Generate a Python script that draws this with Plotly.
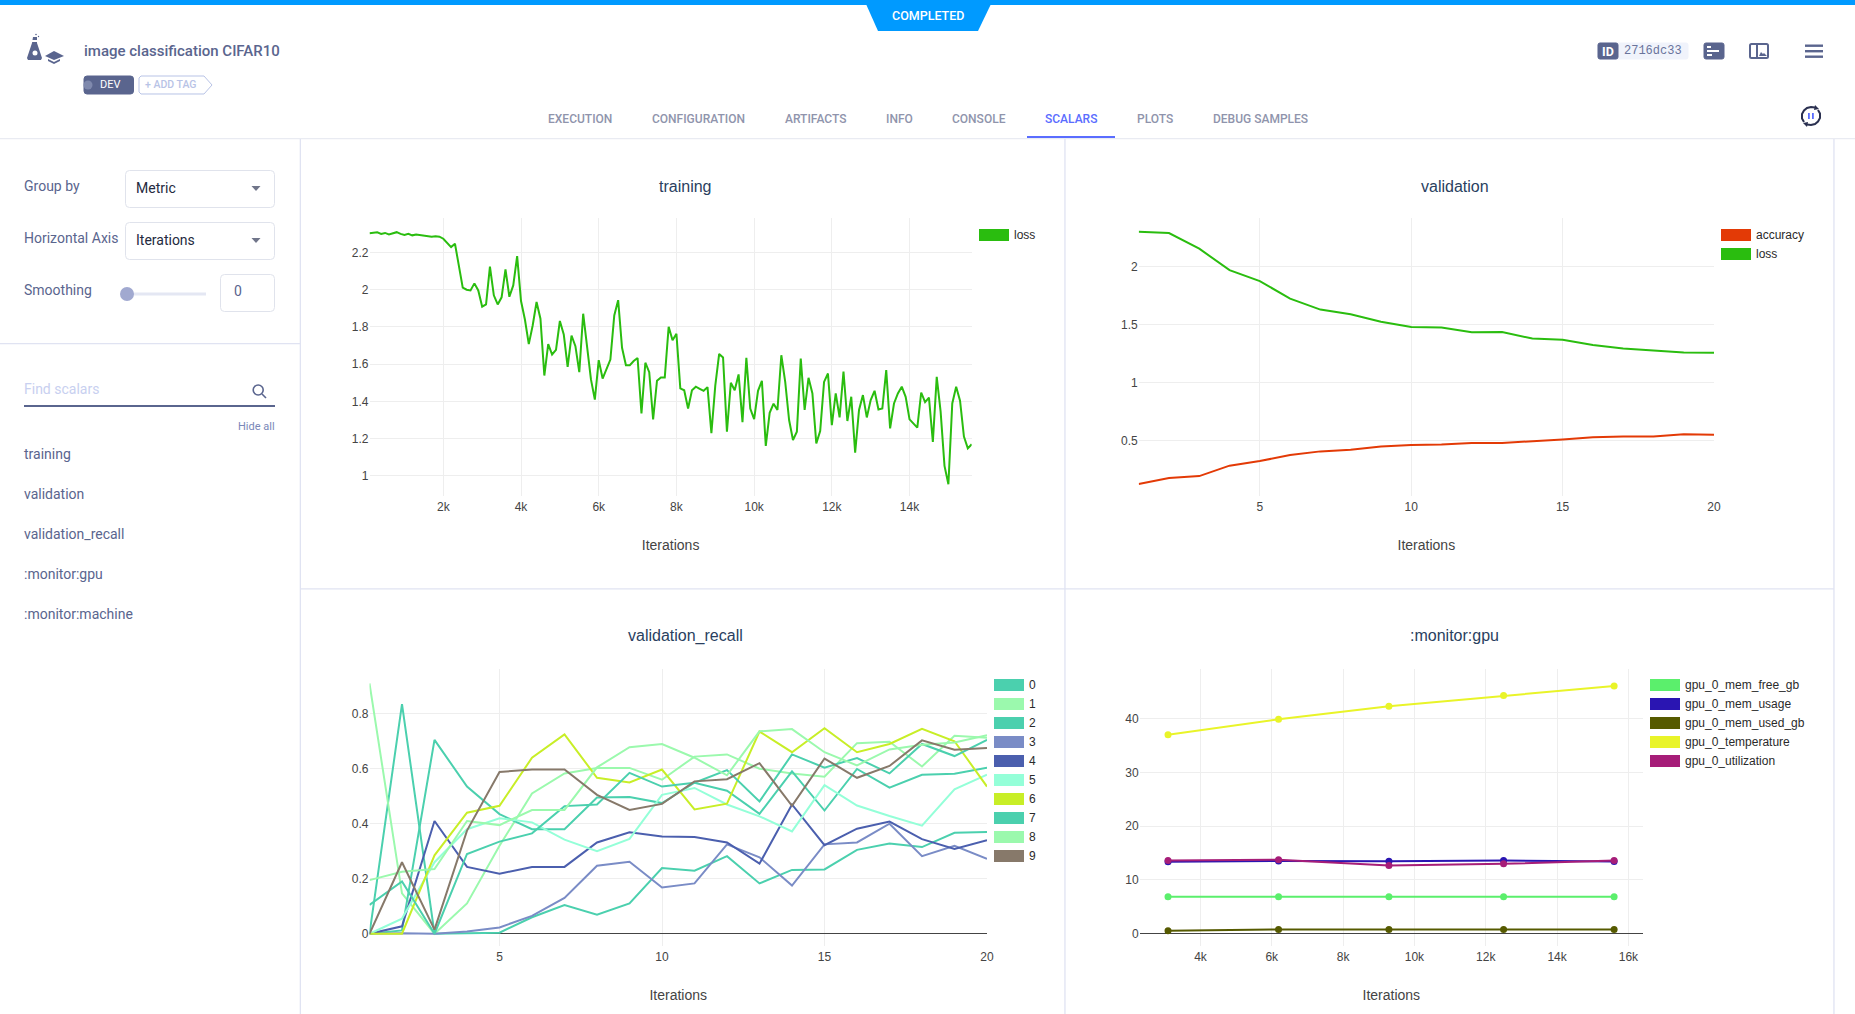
import plotly.graph_objects as go

W, H = 1855, 1014

# ---- data ----
train_iter = list(range(100, 15700, 100))
train_loss = [2.303, 2.306, 2.308, 2.300, 2.305, 2.297, 2.304, 2.309, 2.300, 2.294,
              2.300, 2.292, 2.297, 2.294, 2.294, 2.287, 2.285, 2.287, 2.285, 2.274,
              2.249, 2.229, 2.247, 2.136, 2.011, 2.000, 1.996, 2.034, 1.996, 1.909,
              1.921, 2.124, 1.970, 1.921, 1.959, 2.109, 1.962, 2.023, 2.181, 1.939,
              1.840, 1.708, 1.808, 1.934, 1.844, 1.539, 1.708, 1.652, 1.677, 1.832,
              1.760, 1.586, 1.754, 1.697, 1.557, 1.871, 1.688, 1.518, 1.410, 1.622,
              1.523, 1.572, 1.625, 1.862, 1.944, 1.688, 1.595, 1.595, 1.617, 1.633,
              1.335, 1.608, 1.557, 1.303, 1.511, 1.529, 1.529, 1.801, 1.729, 1.763,
              1.470, 1.460, 1.362, 1.460, 1.479, 1.468, 1.457, 1.477, 1.229, 1.485,
              1.655, 1.636, 1.237, 1.500, 1.460, 1.545, 1.289, 1.634, 1.362, 1.305,
              1.457, 1.511, 1.161, 1.339, 1.388, 1.354, 1.648, 1.505, 1.300, 1.193,
              1.237, 1.630, 1.354, 1.527, 1.443, 1.175, 1.241, 1.505, 1.550, 1.273,
              1.443, 1.314, 1.561, 1.295, 1.425, 1.125, 1.354, 1.434, 1.314, 1.407,
              1.457, 1.357, 1.362, 1.568, 1.255, 1.389, 1.443, 1.479, 1.425, 1.304,
              1.282, 1.259, 1.448, 1.396, 1.420, 1.182, 1.532, 1.345, 1.054, 0.955,
              1.389, 1.479, 1.404, 1.211, 1.148, 1.170]

epochs = list(range(1, 21))
val_accuracy = [0.126, 0.178, 0.195, 0.285, 0.325, 0.376, 0.408, 0.422, 0.451, 0.463,
                0.468, 0.480, 0.480, 0.494, 0.511, 0.529, 0.537, 0.537, 0.555, 0.552]
val_loss = [2.30, 2.29, 2.155, 1.97, 1.875, 1.725, 1.63, 1.59, 1.525, 1.48,
            1.475, 1.435, 1.437, 1.38, 1.37, 1.325, 1.295, 1.28, 1.26, 1.258]

recall_0 = [0, 0.835, 0, 0.002, 0.004, 0.06, 0.104, 0.069, 0.11, 0.239,
            0.229, 0.282, 0.183, 0.232, 0.234, 0.305, 0.328, 0.315, 0.367, 0.37]
recall_1 = [0.91, 0.147, 0, 0.11, 0.32, 0.51, 0.583, 0.603, 0.603, 0.56,
            0.644, 0.652, 0.60, 0.583, 0.571, 0.693, 0.698, 0.608, 0.72, 0.713]
recall_2 = [0, 0.012, 0.705, 0.535, 0.435, 0.38, 0.38, 0.495, 0.497, 0.475,
            0.549, 0.52, 0.436, 0.59, 0.448, 0.599, 0.531, 0.578, 0.582, 0.604]
recall_3 = [0, 0.002, 0, 0.008, 0.023, 0.065, 0.13, 0.247, 0.262, 0.168,
            0.183, 0.325, 0.278, 0.175, 0.325, 0.332, 0.40, 0.282, 0.32, 0.272]
recall_4 = [0, 0.027, 0.41, 0.243, 0.218, 0.243, 0.243, 0.332, 0.369, 0.354,
            0.352, 0.332, 0.255, 0.47, 0.322, 0.382, 0.408, 0.344, 0.308, 0.34]
recall_5 = [0, 0.055, 0.26, 0.38, 0.42, 0.405, 0.342, 0.30, 0.345, 0.505,
            0.53, 0.47, 0.427, 0.372, 0.54, 0.466, 0.428, 0.393, 0.525, 0.578]
recall_6 = [0, 0, 0.285, 0.44, 0.465, 0.64, 0.725, 0.567, 0.55, 0.597,
            0.452, 0.473, 0.735, 0.66, 0.747, 0.66, 0.69, 0.745, 0.70, 0.535]
recall_7 = [0.105, 0.19, 0, 0.29, 0.335, 0.365, 0.464, 0.47, 0.585, 0.535,
            0.549, 0.595, 0.481, 0.652, 0.604, 0.639, 0.583, 0.69, 0.646, 0.705]
recall_8 = [0.195, 0.225, 0.235, 0.41, 0.395, 0.45, 0.45, 0.605, 0.678, 0.69,
            0.64, 0.576, 0.736, 0.744, 0.66, 0.612, 0.67, 0.687, 0.695, 0.722]
recall_9 = [0, 0.26, 0.015, 0.375, 0.588, 0.597, 0.597, 0.505, 0.45, 0.472,
            0.554, 0.562, 0.62, 0.465, 0.637, 0.567, 0.61, 0.703, 0.669, 0.675]
recall_names = ["0", "1", "2", "3", "4", "5", "6", "7", "8", "9"]
recall_colors = ["#4bd0ae", "#9bf9ad", "#4bd0ae", "#7a8cc6", "#4b5fae",
                 "#94ffd8", "#c8ee27", "#4bd0ae", "#9bf9ad", "#87796a"]

gpu_iter = [3090, 6190, 9285, 12500, 15600]
gpu_mem_free = [6.88, 6.88, 6.88, 6.88, 6.88]
gpu_mem_usage = [13.4, 13.55, 13.5, 13.6, 13.45]
gpu_mem_used = [0.55, 0.8, 0.8, 0.8, 0.8]
gpu_temperature = [37.0, 39.9, 42.3, 44.3, 46.1]
gpu_utilization = [13.6, 13.75, 12.7, 13.0, 13.6]
gpu_names = ["gpu_0_mem_free_gb", "gpu_0_mem_usage", "gpu_0_mem_used_gb",
             "gpu_0_temperature", "gpu_0_utilization"]
gpu_colors = ["#5bef6c", "#2a15b2", "#565a00", "#e9f429", "#a61d78"]

tab_names = ["EXECUTION", "CONFIGURATION", "ARTIFACTS", "INFO", "CONSOLE", "SCALARS", "PLOTS", "DEBUG SAMPLES"]
tab_centers = [580, 698, 815, 899.5, 979, 1071, 1155, 1260]
scalar_names = ["training", "validation", "validation_recall", ":monitor:gpu", ":monitor:machine"]

SLATE = "#5a658e"
GREEN = "#2abd0f"
RED = "#e33a06"
PLOT_FONT = "Liberation Sans"
UI_FONT = "Roboto"

shapes = []
annotations = []


def fx(x):
    return x / W


def fy(y):
    return 1 - y / H


def text(x, y, s, size=14, color=SLATE, anchor="left", font=UI_FONT, weight=None):
    f = dict(family=font, size=size, color=color)
    if weight:
        f["weight"] = weight
    annotations.append(dict(x=fx(x), y=fy(y), xref="paper", yref="paper", text=s, showarrow=False,
                            xanchor=anchor, yanchor="middle", font=f, borderpad=0, borderwidth=0))


def rect(x0, y0, x1, y1, fill, line=None, lw=1):
    shapes.append(dict(type="rect", xref="paper", yref="paper", x0=fx(x0), x1=fx(x1), y0=fy(y0), y1=fy(y1),
                       fillcolor=fill, line=dict(color=line, width=lw) if line else dict(width=0)))


def poly(points, fill=None, line=None, lw=1, close=True):
    p = "M " + " L ".join(f"{fx(a):.6f},{fy(b):.6f}" for a, b in points) + (" Z" if close else "")
    shapes.append(dict(type="path", xref="paper", yref="paper", path=p, fillcolor=fill or "rgba(0,0,0,0)",
                       line=dict(color=line, width=lw) if line else dict(width=0)))


def round_box(x0, y0, x1, y1, r=4, fill="#ffffff", line="#e0e3ec", lw=1):
    k = [(x0 + r, y0), (x1 - r, y0), (x1, y0), (x1, y0 + r), (x1, y1 - r), (x1, y1), (x1 - r, y1),
         (x0 + r, y1), (x0, y1), (x0, y1 - r), (x0, y0 + r), (x0, y0)]
    k = [(fx(a), fy(b)) for a, b in k]
    p = (f"M {k[0][0]},{k[0][1]} L {k[1][0]},{k[1][1]} Q {k[2][0]},{k[2][1]} {k[3][0]},{k[3][1]} "
         f"L {k[4][0]},{k[4][1]} Q {k[5][0]},{k[5][1]} {k[6][0]},{k[6][1]} L {k[7][0]},{k[7][1]} "
         f"Q {k[8][0]},{k[8][1]} {k[9][0]},{k[9][1]} L {k[10][0]},{k[10][1]} Q {k[11][0]},{k[11][1]} {k[0][0]},{k[0][1]} Z")
    shapes.append(dict(type="path", xref="paper", yref="paper", path=p, fillcolor=fill,
                       line=dict(color=line, width=lw) if lw else dict(width=0)))


def circle(cx, cy, r, fill=None, line=None, lw=1):
    shapes.append(dict(type="circle", xref="paper", yref="paper", x0=fx(cx - r), x1=fx(cx + r), y0=fy(cy - r), y1=fy(cy + r),
                       fillcolor=fill or "rgba(0,0,0,0)", line=dict(color=line, width=lw) if line else dict(width=0)))


def legend(names, colors, x_swatch, x_text, y_top):
    for i, (n, c) in enumerate(zip(names, colors)):
        y = y_top + i * 19
        rect(x_swatch, y, x_swatch + 30, y + 12, c)
        text(x_text, y + 6.3, n, size=12, color="#2a2a2a", font=PLOT_FONT)


def axis_x(dom, rng, **kw):
    return dict(domain=[fx(dom[0]), fx(dom[1])], range=rng, showgrid=True, gridcolor="#eeeeee", gridwidth=1,
                zeroline=False, showline=False, ticks="", automargin=False, ticklabelstandoff=2,
                tickfont=dict(family=PLOT_FONT, size=12, color="#444444"),
                title=dict(text="Iterations", standoff=26, font=dict(family=PLOT_FONT, size=14, color="#444444")), **kw)


def axis_y(dom, rng, anchor, **kw):
    a = dict(domain=[fy(dom[1]), fy(dom[0])], range=rng, anchor=anchor, showgrid=True, gridcolor="#eeeeee", gridwidth=1,
             showline=False, ticks="", automargin=False,
             tickfont=dict(family=PLOT_FONT, size=12, color="#444444"))
    a.update(kw)
    return a


fig = go.Figure()


def add_line(x, y, name, color, xa, ya, markers=False):
    fig.add_trace(go.Scatter(x=x, y=y, name=name, xaxis=xa, yaxis=ya, mode="lines+markers" if markers else "lines",
                             line=dict(color=color, width=2), marker=dict(size=7, color=color), showlegend=False))


add_line(train_iter, train_loss, "loss", GREEN, "x", "y")
add_line(epochs, val_accuracy, "accuracy", RED, "x2", "y2")
add_line(epochs, val_loss, "loss", GREEN, "x2", "y2")
recall_series = [recall_0, recall_1, recall_2, recall_3, recall_4, recall_5, recall_6, recall_7, recall_8, recall_9]
for n, c, s in zip(recall_names, recall_colors, recall_series):
    add_line(epochs, s, n, c, "x3", "y3")
gpu_series = [gpu_mem_free, gpu_mem_usage, gpu_mem_used, gpu_temperature, gpu_utilization]
for n, c, s in zip(gpu_names, gpu_colors, gpu_series):
    add_line(gpu_iter, s, n, c, "x4", "y4", markers=True)

# panels, titles and legends
text(685, 186, "training", size=16, color="#2a3f5f", anchor="center", font=PLOT_FONT)
text(1454.5, 186, "validation", size=16, color="#2a3f5f", anchor="center", font=PLOT_FONT)
text(685, 636, "validation_recall", size=16, color="#2a3f5f", anchor="center", font=PLOT_FONT)
text(1454, 635.3, ":monitor:gpu", size=16, color="#2a3f5f", anchor="center", font=PLOT_FONT)
legend(["loss"], [GREEN], 979, 1014, 229)
legend(["accuracy", "loss"], [RED, GREEN], 1721, 1756, 229)
legend(recall_names, recall_colors, 994, 1029, 679)
legend(gpu_names, gpu_colors, 1650, 1685, 679)

# top bar and status badge
rect(0, 0, W, 5, "#009aff")
poly([(866, 4), (991, 4), (978, 31), (878, 31)], fill="#009aff")
text(928, 15.7, "COMPLETED", size=12.5, color="#ffffff", anchor="center", weight=500)

# header
text(84, 51, "image classification CIFAR10", size=15, weight=500)
round_box(84, 76, 133.5, 94, r=3, fill=SLATE, line=SLATE)
circle(88, 85, 4.5, fill="#7f89ad")
text(109.5, 85, "DEV", size=11, color="#ffffff", anchor="center")
poly([(141, 76), (204, 76), (212, 85), (204, 94), (141, 94), (139, 92), (139, 78)], line="#b8c3e6", fill="#ffffff")
text(144.5, 85, "+ ADD TAG", size=10.5, color="#b8c3e6", weight=500)

# flask + cap logo
poly([(33, 37), (37, 37), (37, 43), (42, 58), (41, 60), (28, 60), (27, 58), (32, 43)], fill=SLATE)
circle(35, 53, 2.5, fill="#ffffff")
rect(32, 40, 38, 42, "#ffffff")
circle(36, 34.5, 0.8, fill=SLATE)
circle(38.5, 36.5, 0.7, fill=SLATE)
poly([(45, 56), (54, 51), (64, 56), (54, 60)], fill=SLATE)
poly([(48, 59), (54, 62), (60, 59), (60, 61), (54, 64), (48, 61)], fill=SLATE)

# id block and top icons
round_box(1598, 43, 1688, 59, r=2, fill="#f0f3fb", line="#f0f3fb")
round_box(1598, 43, 1618, 59, r=2, fill=SLATE, line=SLATE)
text(1608, 51, "ID", size=12.5, color="#ffffff", anchor="center", weight=700)
text(1653, 51, "2716dc33", size=12, color="#6a749b", anchor="center", font="Liberation Mono")
round_box(1704, 43, 1724, 59, r=2, fill=SLATE, line=SLATE)
rect(1707, 46, 1711, 48, "#ffffff")
rect(1707, 50, 1719, 52, "#ffffff")
rect(1707, 54, 1712, 56, "#ffffff")
round_box(1750, 44, 1768, 58, r=1.5, fill="#ffffff", line=SLATE, lw=2)
rect(1756, 44, 1758, 58, SLATE)
poly([(1759, 56), (1761, 52), (1763, 54), (1764, 53), (1767, 56)], fill=SLATE)
for yy in [44.5, 50, 55.5]:
    rect(1805, yy, 1823, yy + 2.4, SLATE)

# refresh/pause icon: two arcs with arrow heads and gaps
poly([(1804, 122), (1802, 118.5), (1802, 114), (1804, 110.5), (1807, 108), (1811, 107), (1815, 107.5)],
     line="#2a3050", lw=2, close=False)
poly([(1818, 110), (1820, 113.5), (1820, 118), (1818, 121.5), (1815, 124), (1811, 125), (1807, 124.5)],
     line="#2a3050", lw=2, close=False)
poly([(1815, 105), (1819, 109), (1814, 110)], fill="#2a3050")
poly([(1807, 127), (1803, 123), (1808, 122)], fill="#2a3050")
rect(1808, 113, 1809.8, 119, "#5a6dff")
rect(1812, 113, 1813.8, 119, "#5a6dff")

# tabs
for name, cx in zip(tab_names, tab_centers):
    active = name == "SCALARS"
    text(cx, 118.9, name, size=12, color="#5a6dff" if active else "#8f94ac", anchor="center", weight=500)
rect(0, 138, W, 139.3, "#e9ebf2")
rect(1027, 136, 1115, 138, "#5a6dff")

# page separators
rect(299.7, 139, 301, H, "#e0e3f2")
rect(1064.3, 139, 1065.6, H, "#e0e3f2")
rect(1833.3, 139, 1834.6, H, "#e0e3f2")
rect(300, 588.3, 1834, 589.6, "#e0e3f2")
rect(0, 343, 300, 344.3, "#e0e3f2")

# sidebar controls
text(24, 185.5, "Group by")
round_box(125.5, 170.5, 274.5, 207.5)
text(135.5, 187.5, "Metric", color="#242a40")
poly([(251.5, 186), (260.5, 186), (256, 191)], fill="#70758a")
text(24, 237.5, "Horizontal Axis")
round_box(125.5, 222.5, 274.5, 259.5)
text(135.5, 239.5, "Iterations", color="#242a40")
poly([(251.5, 238), (260.5, 238), (256, 243)], fill="#70758a")
text(24, 290, "Smoothing")
rect(127, 292.5, 206, 295.5, "#e4e7f3")
circle(127, 294, 7, fill="#a1a9d0")
round_box(220.5, 274.5, 274.5, 311.5)
text(238.2, 291.5, "0", color=SLATE, anchor="center")

text(24, 388.5, "Find scalars", color="#c8d0f0")
rect(24, 405, 275, 407, SLATE)
circle(258.2, 390, 5, line=SLATE, lw=1.6)
poly([(262, 394), (266, 398)], line=SLATE, lw=1.6, close=False)
text(275, 426.5, "Hide all", size=11, color="#7a87b8", anchor="right")
for i, name in enumerate(scalar_names):
    text(24, 454.2 + i * 40, name)

fig.update_layout(
    width=W, height=H, margin=dict(l=0, r=0, t=0, b=0, pad=0), autosize=False,
    paper_bgcolor="#ffffff", plot_bgcolor="#ffffff", showlegend=False,
    shapes=shapes, annotations=annotations,
    xaxis=axis_x((369.5, 971.7), [100, 15600], dtick=2000, tick0=0, tickformat="~s"),
    yaxis=axis_y((218.4, 496.4), [0.89, 2.383], "x", dtick=0.2, tick0=0, zeroline=False),
    xaxis2=axis_x((1138.7, 1714), [1, 20], anchor="y2", dtick=5, tick0=0),
    yaxis2=axis_y((218.4, 496.4), [0.02, 2.416], "x2", dtick=0.5, tick0=0, zeroline=False),
    xaxis3=axis_x((369.5, 987), [1, 20], anchor="y3", dtick=5, tick0=0),
    yaxis3=axis_y((668.7, 946.4), [-0.046, 0.9636], "x3", dtick=0.2, tick0=0,
                  zeroline=True, zerolinecolor="#444444", zerolinewidth=1),
    xaxis4=axis_x((1139.6, 1643), [2293, 16410], anchor="y4", dtick=2000, tick0=0, tickformat="~s"),
    yaxis4=axis_y((668.7, 946.4), [-2.36, 49.3], "x4", dtick=10, tick0=0,
                  zeroline=True, zerolinecolor="#444444", zerolinewidth=1),
)

fig.write_html("out.html", config=dict(displayModeBar=False),
               post_script="document.body.style.margin='0';document.body.style.overflow='hidden';")
